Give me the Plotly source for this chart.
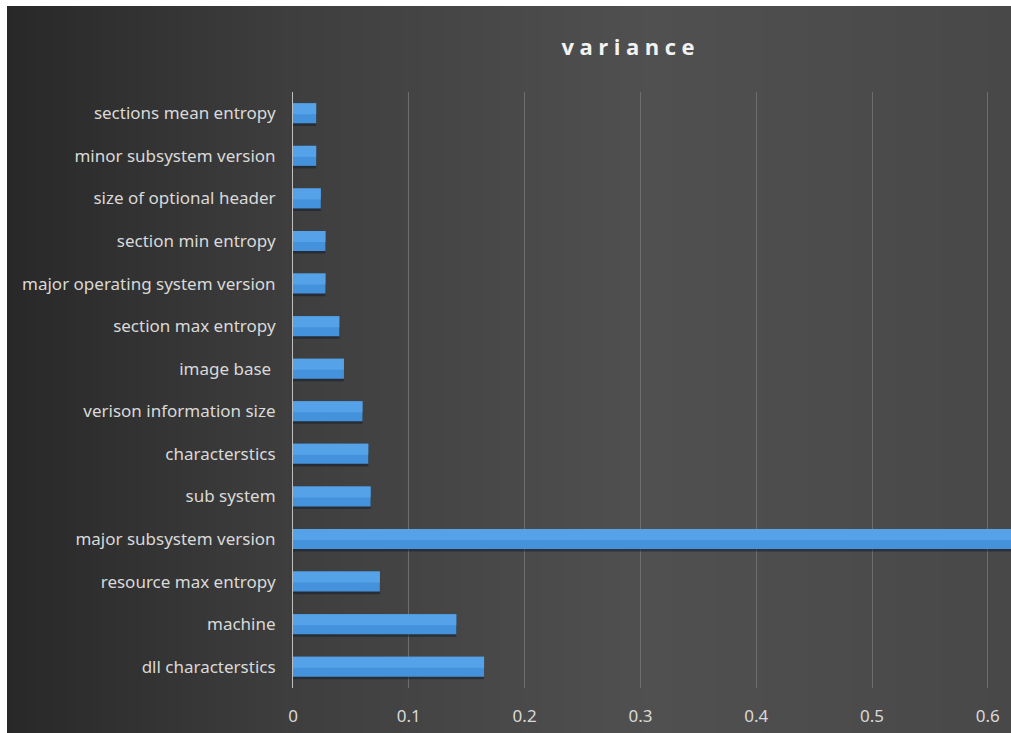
import numpy as np
import plotly.graph_objects as go

# Feature names, listed from the bottom of the chart to the top
features = [
    "dll characterstics",
    "machine",
    "resource max entropy",
    "major subsystem version",
    "sub system",
    "characterstics",
    "verison information size",
    "image base ",
    "section max entropy",
    "major operating system version",
    "section min entropy",
    "size of optional header",
    "minor subsystem version",
    "sections mean entropy",
]
variance = [
    0.165, 0.141, 0.075, 0.70, 0.067, 0.065, 0.060,
    0.044, 0.040, 0.028, 0.028, 0.024, 0.020, 0.020,
]
x_ticks = [0, 0.1, 0.2, 0.3, 0.4, 0.5, 0.6]
x_tick_text = ["0", "0.1", "0.2", "0.3", "0.4", "0.5", "0.6"]

W, H = 1011, 733
L, R, T, B = 293, 0, 92, 45
pw, ph = W - L - R, H - T - B


def px_to_paper_x(px):
    return (px - L) / pw


def px_to_paper_y(py):
    return (H - B - py) / ph


# Dark horizontal gradient behind the whole chart area
def shade(px):
    xs = [7, 290, 650, 1011]
    vs = [40, 62, 80, 72]
    v = int(round(np.interp(px, xs, vs)))
    return f"rgb({v},{v},{v})"


shapes = []
step = 5
for x0 in range(7, W, step):
    x1 = min(x0 + step + 1, W + 2)
    shapes.append(dict(
        type="rect", xref="paper", yref="paper", layer="below",
        x0=px_to_paper_x(x0), x1=px_to_paper_x(x1),
        y0=px_to_paper_y(H + 2), y1=px_to_paper_y(6),
        fillcolor=shade(x0 + step / 2), line=dict(width=0),
    ))

bar_w = 0.47
fig = go.Figure()
# soft shadow under each bar
fig.add_trace(go.Bar(
    y=features, x=variance, orientation="h",
    width=bar_w, offset=-bar_w / 2 - 0.06,
    marker=dict(color="rgba(15,25,40,0.5)", line=dict(width=0)),
    hoverinfo="skip", showlegend=False,
))
# bar body
fig.add_trace(go.Bar(
    y=features, x=variance, orientation="h",
    width=bar_w, offset=-bar_w / 2,
    marker=dict(color="#4592dc", line=dict(width=0)),
    showlegend=False,
))
# lighter upper part for a glossy look
fig.add_trace(go.Bar(
    y=features, x=variance, orientation="h",
    width=bar_w * 0.55, offset=-bar_w * 0.05,
    marker=dict(color="#55a2e8", line=dict(width=0)),
    hoverinfo="skip", showlegend=False,
))

fig.update_layout(
    width=W, height=H,
    margin=dict(l=L, r=R, t=T, b=B, pad=0),
    paper_bgcolor="white",
    plot_bgcolor="rgba(0,0,0,0)",
    barmode="overlay",
    shapes=shapes,
    font=dict(family="Noto Sans", color="#d9d9d9"),
    title=dict(
        text="<b>v\u2005a\u2005r\u2005i\u2005a\u2005n\u2005c\u2005e</b>",
        x=628 / W, y=1 - 47 / H, xanchor="center", yanchor="middle",
        xref="container", yref="container",
        font=dict(family="Open Sans", size=22, color="#f2f2f2"),
    ),
    xaxis=dict(
        range=[0, 0.62], tickvals=x_ticks, ticktext=x_tick_text,
        showgrid=True, gridcolor="#6e6e6e", gridwidth=1,
        zeroline=False, showline=False,
        ticks="outside", ticklen=13, tickcolor="rgba(0,0,0,0)",
        tickfont=dict(size=17, color="#d9d9d9"),
        fixedrange=True,
    ),
    yaxis=dict(
        categoryorder="array", categoryarray=features,
        showgrid=False, zeroline=False,
        showline=True, linecolor="#bfbfbf", linewidth=1,
        ticks="outside", ticklen=13, tickcolor="rgba(0,0,0,0)",
        tickfont=dict(size=17, color="#d9d9d9"),
        fixedrange=True,
    ),
)

fig.write_html("out.html")
